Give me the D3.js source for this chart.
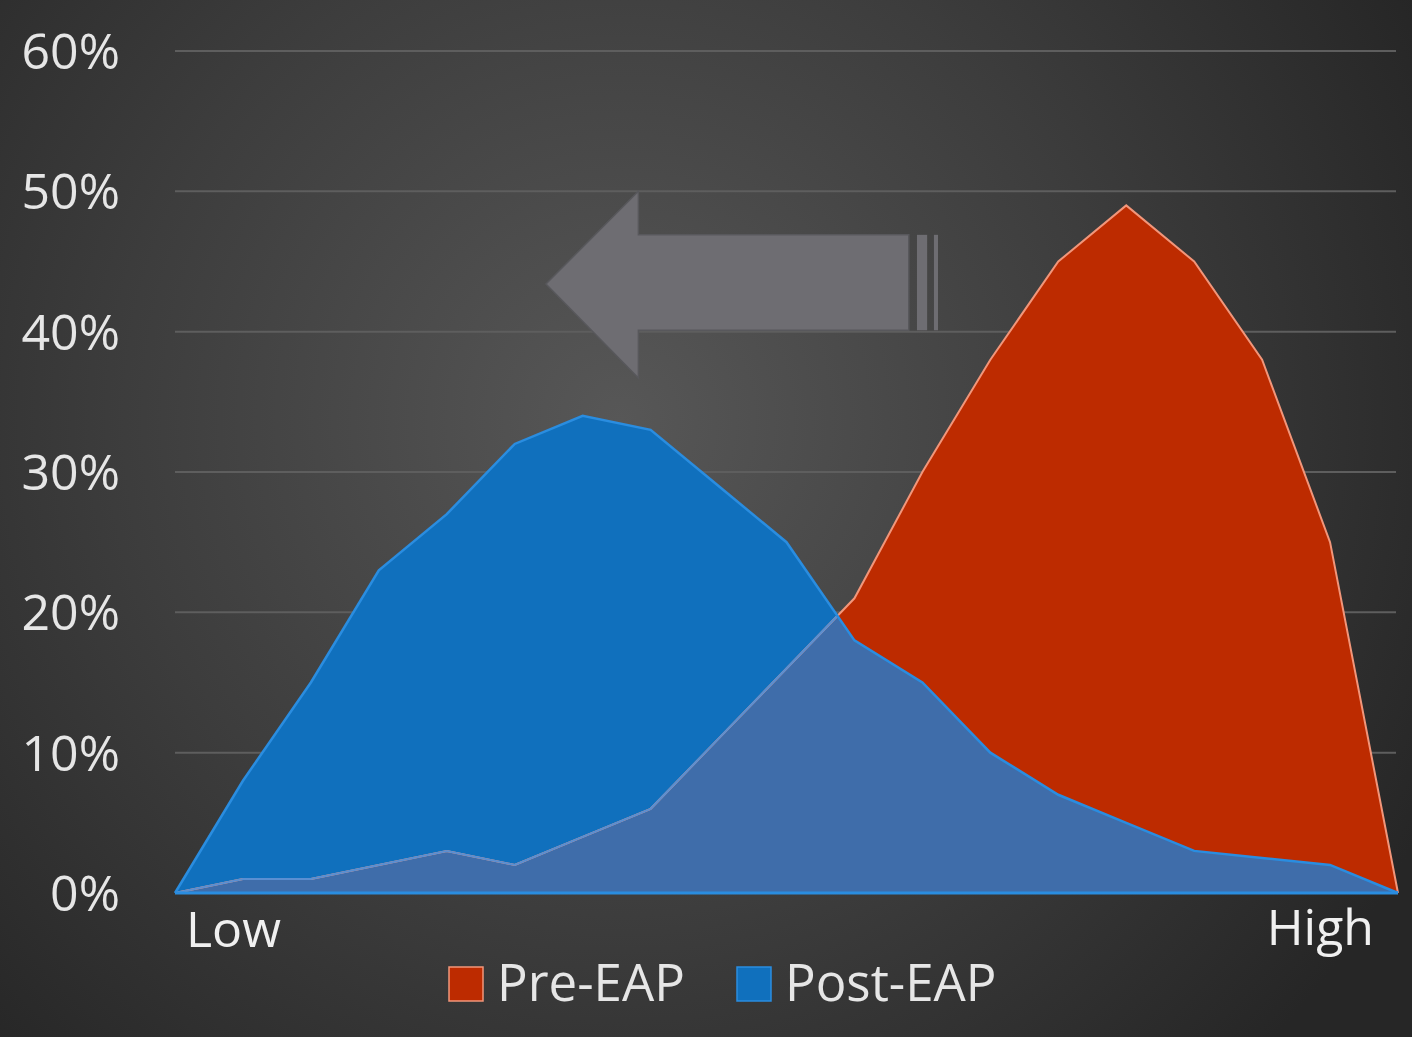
<!DOCTYPE html>
<html>
<head>
<meta charset="utf-8">
<script src="https://cdn.jsdelivr.net/npm/d3@7"></script>
<style>
	html, body { margin: 0; padding: 0; background: #2a2a2a; }
	svg { display: block; }
</style>
</head>
<body>
<svg id="chart"></svg>
<script>
// values (percent of people, 19 steps from Low to High)
var steps = d3.range(19);
var preEAP = [0, 1, 1, 2, 3, 2, 4, 6, 11, 16, 21, 30, 38, 45, 49, 45, 38, 25, 0];
var postEAP = [0, 8, 15, 23, 27, 32, 34, 33, 29, 25, 18, 15, 10, 7, 5, 3, 2.5, 2, 0];
var yTicks = [0, 10, 20, 30, 40, 50, 60];
var seriesNames = ['Pre-EAP', 'Post-EAP'];
var seriesColors = ['#bd2b00', '#1070bd'];

(function () {
	var width = 1412, height = 1037;
	var svg = d3.select('#chart').attr('width', width).attr('height', height);

	var x = d3.scaleLinear().domain([0, 18]).range([175, 1398]);
	var y = d3.scaleLinear().domain([0, 60]).range([893, 51]);

	// background
	var defs = svg.append('defs');
	var grad = defs.append('radialGradient').attr('id', 'bg')
		.attr('gradientUnits', 'userSpaceOnUse')
		.attr('cx', 620).attr('cy', 420).attr('r', 900);
	grad.append('stop').attr('offset', '0%').attr('stop-color', '#575757');
	grad.append('stop').attr('offset', '55%').attr('stop-color', '#3d3d3d');
	grad.append('stop').attr('offset', '100%').attr('stop-color', '#262626');
	svg.append('rect').attr('width', width).attr('height', height).attr('fill', 'url(#bg)');

	// grid
	svg.append('g').selectAll('line')
		.data(yTicks.slice(1))
		.enter().append('line')
		.attr('x1', x(0)).attr('x2', x(18) - 2)
		.attr('y1', function (d) { return y(d); })
		.attr('y2', function (d) { return y(d); })
		.attr('stroke', '#5e5e5e')
		.attr('stroke-width', 2);

	// y labels
	svg.append('g').selectAll('text')
		.data(yTicks)
		.enter().append('text')
		.attr('x', 120)
		.attr('y', function (d) { return y(d) + 18; })
		.attr('text-anchor', 'end')
		.attr('font-family', 'Open Sans, sans-serif')
		.attr('font-size', 50)
		.attr('fill', '#e6e6e6')
		.text(function (d) { return d + '%'; });

	var area = function (vals) {
		return d3.area()
			.x(function (d, i) { return x(i); })
			.y0(y(0))
			.y1(function (d) { return y(d); })(vals);
	};
	var line = function (vals) {
		return d3.line()
			.x(function (d, i) { return x(i); })
			.y(function (d) { return y(d); })(vals);
	};

	defs.append('clipPath').attr('id', 'postClip')
		.append('path').attr('d', area(postEAP));

	// areas
	svg.append('path').attr('d', area(preEAP)).attr('fill', seriesColors[0]);
	svg.append('path').attr('d', area(postEAP)).attr('fill', seriesColors[1]);
	svg.append('path').attr('d', area(preEAP)).attr('fill', '#3f6daa')
		.attr('clip-path', 'url(#postClip)');

	// edges
	svg.append('path').attr('d', line(preEAP))
		.attr('fill', 'none').attr('stroke', '#f2967a').attr('stroke-width', 2);
	svg.append('path').attr('d', line(preEAP))
		.attr('fill', 'none').attr('stroke', '#5a8fd2').attr('stroke-width', 2)
		.attr('clip-path', 'url(#postClip)');
	svg.append('path').attr('d', line(postEAP))
		.attr('fill', 'none').attr('stroke', '#2a8de0').attr('stroke-width', 2.5);
	svg.append('line')
		.attr('x1', x(0)).attr('x2', x(18))
		.attr('y1', y(0)).attr('y2', y(0))
		.attr('stroke', '#2a8de0').attr('stroke-width', 3);

	// shift arrow (annotation, in data units)
	var ax = function (v) { return x(v); }, ay = function (v) { return y(v); };
	var arrowPts = [
		[ax(5.46), ay(43.4)],
		[ax(6.82), ay(50)],
		[ax(6.82), ay(46.9)],
		[ax(10.8), ay(46.9)],
		[ax(10.8), ay(40.1)],
		[ax(6.82), ay(40.1)],
		[ax(6.82), ay(36.7)]
	];
	var arrow = svg.append('g');
	arrow.append('path')
		.attr('d', 'M' + arrowPts.join('L') + 'Z')
		.attr('fill', '#6e6d72')
		.attr('stroke', '#58585c')
		.attr('stroke-width', 1.5);
	arrow.selectAll('rect')
		.data([[10.92, 0.15], [11.17, 0.06]])
		.enter().append('rect')
		.attr('x', function (d) { return ax(d[0]); })
		.attr('width', function (d) { return ax(d[0] + d[1]) - ax(d[0]); })
		.attr('y', ay(46.9))
		.attr('height', ay(40.1) - ay(46.9))
		.attr('fill', '#6e6d72');

	// x end labels
	svg.append('text').attr('x', 186).attr('y', 947)
		.attr('font-family', 'Open Sans, sans-serif').attr('font-size', 50)
		.attr('fill', '#f0f0f0').text('Low');
	svg.append('text').attr('x', 1374).attr('y', 945)
		.attr('text-anchor', 'end')
		.attr('font-family', 'Open Sans, sans-serif').attr('font-size', 50)
		.attr('fill', '#f0f0f0').text('High');

	// legend
	var legend = svg.append('g');
	var legX = [449, 737];
	seriesNames.forEach(function (name, i) {
		legend.append('rect')
			.attr('x', legX[i]).attr('y', 967)
			.attr('width', 34).attr('height', 34)
			.attr('fill', seriesColors[i])
			.attr('stroke', i === 0 ? '#f2967a' : '#2a8de0')
			.attr('stroke-width', 1.5);
		legend.append('text')
			.attr('x', legX[i] + 48).attr('y', 1001)
			.attr('font-family', 'Open Sans, sans-serif').attr('font-size', 51)
			.attr('fill', '#e6e6e6')
			.text(name);
	});
}());
</script>
</body>
</html>
